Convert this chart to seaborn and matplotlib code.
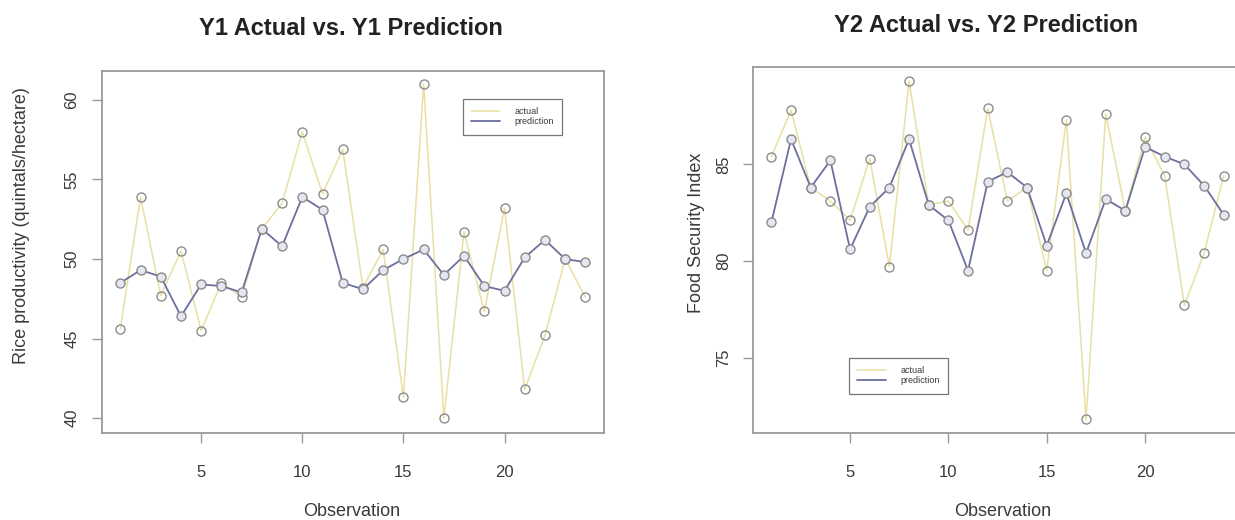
import numpy as np
import pandas as pd
import matplotlib
matplotlib.use("Agg")
import matplotlib.pyplot as plt
from matplotlib.lines import Line2D
import seaborn as sns

obs = list(range(1, 25))

y1_actual = [45.6, 53.9, 47.7, 50.5, 45.5, 48.5, 47.6, 51.9, 53.5, 58.0, 54.1, 56.9,
             48.2, 50.6, 41.3, 61.0, 40.0, 51.7, 46.7, 53.2, 41.8, 45.2, 50.0, 47.6]
y1_pred = [48.5, 49.3, 48.9, 46.4, 48.4, 48.3, 47.9, 51.9, 50.8, 53.9, 53.1, 48.5,
           48.1, 49.3, 50.0, 50.6, 49.0, 50.2, 48.3, 48.0, 50.1, 51.2, 50.0, 49.8]

y2_actual = [85.4, 87.8, 83.8, 83.1, 82.1, 85.3, 79.7, 89.3, 82.9, 83.1, 81.6, 87.9,
             83.1, 83.8, 79.5, 87.3, 71.8, 87.6, 82.6, 86.4, 84.4, 77.7, 80.4, 84.4]
y2_pred = [82.0, 86.3, 83.8, 85.2, 80.6, 82.8, 83.8, 86.3, 82.9, 82.1, 79.5, 84.1,
           84.6, 83.8, 80.8, 83.5, 80.4, 83.2, 82.6, 85.9, 85.4, 85.0, 83.9, 82.4]

y1_ticks = [40, 45, 50, 55, 60]
y2_ticks = [75, 80, 85]
x_ticks = [5, 10, 15, 20]

sns.set_style("white")
plt.rcParams["font.family"] = ["Liberation Sans", "DejaVu Sans"]

ACT_COL = "#e8e0a2"
PRED_COL = "#6c6f9f"
EDGE = "#8c8c8c"
SPINE = "#9a9a9a"
TXT = "#3a3a3a"

fig = plt.figure(figsize=(12.35, 5.2), dpi=100)
W, H = 1235.0, 520.0
ax1 = fig.add_axes([101.7 / W, 87 / H, 502.3 / W, 362.3 / H])
ax2 = fig.add_axes([753.3 / W, 87 / H, 488.5 / W, 366.3 / H])


def draw(ax, actual, pred, yticks, ylim):
    df = pd.DataFrame({"obs": obs, "actual": actual, "prediction": pred})
    sns.lineplot(data=df, x="obs", y="actual", ax=ax, color=ACT_COL, lw=1.1,
                 marker="o", markersize=6.5, markerfacecolor="none",
                 markeredgecolor=EDGE, markeredgewidth=1.0)
    sns.lineplot(data=df, x="obs", y="prediction", ax=ax, color=PRED_COL, lw=1.3,
                 marker="o", markersize=6.5, markerfacecolor="#e6e6f3",
                 markeredgecolor=EDGE, markeredgewidth=1.0)
    ax.set_xlim(0.08, 24.92)
    ax.set_ylim(*ylim)
    ax.set_xticks(x_ticks)
    ax.set_yticks(yticks)
    ax.set_xlabel("")
    ax.set_ylabel("")
    for s in ax.spines.values():
        s.set_color(SPINE)
        s.set_linewidth(1.3)
    ax.tick_params(axis="both", which="both", direction="out", length=7,
                   width=1.0, color=SPINE, labelcolor=TXT, labelsize=12,
                   left=True, bottom=True, top=False, right=False)
    ax.tick_params(axis="x", pad=16)
    ax.tick_params(axis="y", pad=9)
    for lab in ax.get_yticklabels():
        lab.set_rotation(90)
        lab.set_va("center")


draw(ax1, y1_actual, y1_pred, y1_ticks, (39.06, 61.84))
draw(ax2, y2_actual, y2_pred, y2_ticks, (71.1, 90.05))

handles = [Line2D([], [], color=ACT_COL, lw=1.1),
           Line2D([], [], color=PRED_COL, lw=1.3)]
for ax, anchor in [(ax1, (0.719, 0.922)), (ax2, (0.196, 0.205))]:
    leg = ax.legend(handles, ["actual", "prediction"], loc="upper left",
                    bbox_to_anchor=anchor, fontsize=6.5, frameon=True,
                    fancybox=False, handlelength=3.2, borderpad=0.9,
                    labelspacing=0.15, handletextpad=1.6, borderaxespad=0)
    leg.get_frame().set_edgecolor("#555555")
    leg.get_frame().set_linewidth(0.9)
    for t in leg.get_texts():
        t.set_color(TXT)

fig.text(351 / W, 1 - 28.5 / H, "Y1 Actual vs. Y1 Prediction", ha="center",
         va="center", fontsize=17, fontweight="bold", color="#222222")
fig.text(986 / W, 1 - 25 / H, "Y2 Actual vs. Y2 Prediction", ha="center",
         va="center", fontsize=17, fontweight="bold", color="#222222")

fig.text(22 / W, 1 - 226 / H, "Rice productivity (quintals/hectare)", rotation=90,
         ha="center", va="center", fontsize=13, color=TXT)
fig.text(697 / W, 1 - 233 / H, "Food Security Index", rotation=90,
         ha="center", va="center", fontsize=13, color=TXT)

fig.text(352 / W, 1 - 511 / H, "Observation", ha="center", va="center",
         fontsize=13, color=TXT)
fig.text(1003 / W, 1 - 511 / H, "Observation", ha="center", va="center",
         fontsize=13, color=TXT)

fig.savefig("out.png", dpi=100)
